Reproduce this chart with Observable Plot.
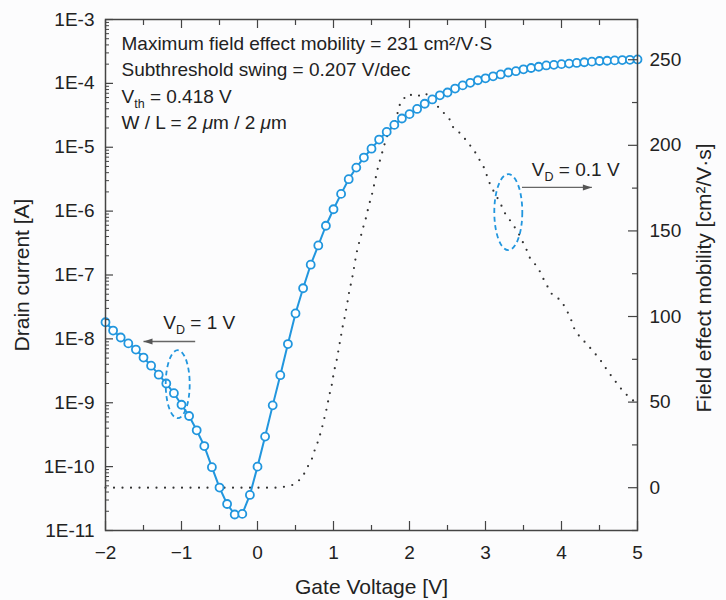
<!DOCTYPE html>
<html><head><meta charset="utf-8">
<script src="https://cdn.jsdelivr.net/npm/d3@7"></script>
<script src="https://cdn.jsdelivr.net/npm/@observablehq/plot@0.6"></script>
<style>
html,body{margin:0;padding:0;background:#fcfcfd;}
#chart{width:726px;height:600px;}
</style></head><body><div id="chart"></div>
<script>
// ---- data ----
const gateVoltage = [
  -2.0,-1.9,-1.8,-1.7,-1.6,-1.5,-1.4,-1.3,-1.2,-1.1,
  -1.0,-0.9,-0.8,-0.7,-0.6,-0.5,-0.4,-0.3,-0.2,-0.1,
   0.0, 0.1, 0.2, 0.3, 0.4, 0.5, 0.6, 0.7, 0.8, 0.9,
   1.0, 1.1, 1.2, 1.3, 1.4, 1.5, 1.6, 1.7, 1.8, 1.9,
   2.0, 2.1, 2.2, 2.3, 2.4, 2.5, 2.6, 2.7, 2.8, 2.9,
   3.0, 3.1, 3.2, 3.3, 3.4, 3.5, 3.6, 3.7, 3.8, 3.9,
   4.0, 4.1, 4.2, 4.3, 4.4, 4.5, 4.6, 4.7, 4.8, 4.9,
   5.0];
const drainCurrent = [
  1.82e-8,1.35e-8,1.05e-8,8.5e-9,6.8e-9,5.1e-9,3.8e-9,2.75e-9,2.0e-9,1.41e-9,
  9.3e-10,6.2e-10,3.7e-10,2.1e-10,9.8e-11,4.7e-11,2.6e-11,1.78e-11,1.82e-11,3.6e-11,
  1.0e-10,2.95e-10,9.1e-10,2.7e-9,8.3e-9,2.5e-8,6.2e-8,1.45e-7,2.9e-7,5.9e-7,
  1.07e-6,1.86e-6,3.16e-6,4.8e-6,6.9e-6,9.5e-6,1.32e-5,1.74e-5,2.24e-5,2.82e-5,
  3.3e-5,3.98e-5,4.8e-5,5.6e-5,6.5e-5,7.2e-5,8.3e-5,9.3e-5,1.02e-4,1.12e-4,
  1.20e-4,1.29e-4,1.38e-4,1.48e-4,1.55e-4,1.66e-4,1.74e-4,1.82e-4,1.91e-4,1.95e-4,
  2.0e-4,2.04e-4,2.09e-4,2.14e-4,2.19e-4,2.24e-4,2.26e-4,2.29e-4,2.32e-4,2.34e-4,
  2.37e-4];
const mobilityVg = [
  -2.0,0.25,0.36,0.48,0.59,0.65,0.71,0.75,0.80,0.83,0.86,0.89,0.92,0.94,0.97,0.99,
  1.01,1.04,1.06,1.08,1.10,1.12,1.15,1.17,1.19,1.21,1.24,1.26,1.28,1.30,1.33,1.36,
  1.39,1.43,1.46,1.51,1.54,1.59,1.63,1.66,1.71,1.77,1.82,1.85,1.88,1.98,2.09,2.21,
  2.32,2.43,2.53,2.58,2.68,2.85,2.98,3.07,3.13,3.20,3.26,3.35,3.43,3.54,3.59,3.69,
  3.75,3.81,3.88,3.99,4.06,4.12,4.16,4.23,4.33,4.43,4.52,4.60,4.68,4.78,4.89,4.97];
const mobility = [
  0,0,0.6,1.8,6,11.5,16,21.6,27.5,32,37,42.6,48,53.5,58,63.5,
  68.6,74,79,84,89,94,100,105,110,115.5,121,126,131,136.5,142,147,
  152,158,164,172,178,188,194,199,206,211,215,220,225,230,228.5,230.5,
  225,220,215,210,206.6,197,187,176,171.5,165.7,160,154.5,149,139,133.6,128.7,
  123,118,112.6,109.6,104.4,99,93.6,88.8,84,79,74,68.7,63.8,58,52.7,50];

const xTicks = [-2,-1,0,1,2,3,4,5];
const xMinorTicks = [-1.5,-0.5,0.5,1.5,2.5,3.5,4.5];
const currentTicks = [1e-11,1e-10,1e-9,1e-8,1e-7,1e-6,1e-5,1e-4,1e-3];
const mobilityTicks = [0,50,100,150,200,250];
const mobilityMinorTicks = [-25,25,75,125,175,225];
const currentDomain = [1e-11, 1e-3];
const mobilityDomain = [-25, 273.5];

const infoLines = [
  "Maximum field effect mobility = 231 cm²/V·S",
  "Subthreshold swing = 0.207 V/dec",
  "V_{th} = 0.418 V",
  "W / L = 2 μm / 2 μm"
];
const xTitle = "Gate Voltage [V]";
const yTitle = "Drain current [A]";
const y2Title = "Field effect mobility [cm²/V·s]";

// annotation anchors (data units)
const vd1Label = [{vg: -1.24, current: 1.41e-8, text: "V_{D} = 1 V"}];
const vd1Arrow = [{from: -0.82, to: -1.5, current: 9.1e-9}];
const vd1Ellipse = [{vg: -1.05, current: 1.95e-9}];
const vd01Label = [{vg: 3.61, mob: 182, text: "V_{D} = 0.1 V"}];
const vd01Arrow = [{from: 3.48, to: 4.40, mob: 175.4}];
const vd01Ellipse = [{vg: 3.30, mob: 161}];

// ---- helpers ----
const blue = "#2196de";
const axisColor = "#444";
const textColor = "#222";
const lg0 = Math.log10(currentDomain[0]), lg1 = Math.log10(currentDomain[1]);
const mobToCurrent = v => 10 ** (lg0 + (v - mobilityDomain[0]) / (mobilityDomain[1] - mobilityDomain[0]) * (lg1 - lg0));

const minorCurrentTicks = [];
for (let e = -11; e < -3; e++) for (let m = 2; m <= 9; m++) minorCurrentTicks.push(m * 10 ** e);

const ivTable = gateVoltage.map((vg, i) => ({vg, current: drainCurrent[i]}));
const mobTable = mobilityVg.map((vg, i) => ({vg, current: mobToCurrent(mobility[i])}));

const ellipseSymbol = (rx, ry) => ({
  draw(ctx) {
    const k = 0.5523;
    ctx.moveTo(rx, 0);
    ctx.bezierCurveTo(rx, ry * k, rx * k, ry, 0, ry);
    ctx.bezierCurveTo(-rx * k, ry, -rx, ry * k, -rx, 0);
    ctx.bezierCurveTo(-rx, -ry * k, -rx * k, -ry, 0, -ry);
    ctx.bezierCurveTo(rx * k, -ry, rx, -ry * k, rx, 0);
    ctx.closePath();
  }
});
const headSymbol = {
  draw(ctx) { ctx.moveTo(0, 0); ctx.lineTo(-9, -3); ctx.lineTo(-9, 3); ctx.closePath(); }
};
const blank = () => "";

const chart = Plot.plot({
  width: 726, height: 600,
  marginLeft: 105, marginRight: 89, marginTop: 19, marginBottom: 70,
  x: {domain: [-2, 5], label: null},
  y: {type: "log", domain: currentDomain, label: null},
  style: {background: "#fcfcfd", fontFamily: "'Liberation Sans', Arial, sans-serif", fontSize: "19px", color: textColor},
  marks: [
    // mobility dotted curve
    Plot.line(mobTable, {x: "vg", y: "current", stroke: "#333", strokeWidth: 2.2, strokeDasharray: "0,8.5", strokeLinecap: "round"}),
    // drain current
    Plot.line(ivTable, {x: "vg", y: "current", stroke: blue, strokeWidth: 2}),
    Plot.dot(ivTable, {x: "vg", y: "current", r: 4, stroke: blue, fill: "white", strokeWidth: 1.8}),
    // ellipses
    Plot.dot(vd1Ellipse, {x: "vg", y: "current", symbol: ellipseSymbol(12, 34), stroke: blue, fill: "none", strokeWidth: 1.8, strokeDasharray: "5,3.5"}),
    Plot.dot(vd01Ellipse, {x: "vg", y: d => mobToCurrent(d.mob), symbol: ellipseSymbol(14, 38), stroke: blue, fill: "none", strokeWidth: 1.8, strokeDasharray: "5,3.5"}),
    // arrows
    Plot.link(vd1Arrow, {x1: "from", x2: "to", y1: "current", y2: "current", stroke: "#666", strokeWidth: 1.3}),
    Plot.dot(vd1Arrow, {x: "to", y: "current", symbol: headSymbol, rotate: 180, fill: "#555", stroke: "none"}),
    Plot.link(vd01Arrow, {x1: "from", x2: "to", y1: d => mobToCurrent(d.mob), y2: d => mobToCurrent(d.mob), stroke: "#666", strokeWidth: 1.3}),
    Plot.dot(vd01Arrow, {x: "to", y: d => mobToCurrent(d.mob), symbol: headSymbol, rotate: 0, fill: "#555", stroke: "none"}),
    // labels
    Plot.text(vd1Label, {x: "vg", y: "current", text: "text", textAnchor: "start", lineAnchor: "bottom", fill: textColor}),
    Plot.text(vd01Label, {x: "vg", y: d => mobToCurrent(d.mob), text: "text", textAnchor: "start", lineAnchor: "bottom", fill: textColor}),
    ...infoLines.map((t, i) => Plot.text([t], {frameAnchor: "top-left", text: d => d, textAnchor: "start", lineAnchor: "bottom", dx: 16, dy: 30.5 + i * 26.3, fill: textColor})),
    // frame
    Plot.frame({stroke: axisColor, strokeWidth: 1.5}),
    // left axis (log)
    Plot.axisY(currentTicks, {anchor: "left", tickSize: 8, dx: 8, tickFormat: blank, stroke: axisColor, strokeWidth: 1.2, label: null}),
    Plot.axisY(minorCurrentTicks, {anchor: "left", tickSize: 4, dx: 4, tickFormat: blank, stroke: axisColor, strokeWidth: 1, label: null}),
    Plot.text(currentTicks, {y: d => d, frameAnchor: "left", textAnchor: "end", dx: -11, text: d => "1E" + Math.round(Math.log10(d)), fill: textColor}),
    // right axis (mobility)
    Plot.axisY(mobilityTicks.map(mobToCurrent), {anchor: "right", tickSize: 10, dx: -10, tickFormat: blank, stroke: axisColor, strokeWidth: 1.2, label: null}),
    Plot.axisY(mobilityMinorTicks.map(mobToCurrent), {anchor: "right", tickSize: 6, dx: -6, tickFormat: blank, stroke: axisColor, strokeWidth: 1.2, label: null}),
    Plot.text(mobilityTicks, {y: d => mobToCurrent(d), frameAnchor: "right", textAnchor: "start", dx: 12, text: d => String(d), fill: textColor}),
    // bottom / top axis
    Plot.axisX(xTicks, {anchor: "bottom", tickSize: 9, dy: -9, tickFormat: blank, stroke: axisColor, strokeWidth: 1.2, label: null}),
    Plot.axisX(xMinorTicks, {anchor: "bottom", tickSize: 5, dy: -5, tickFormat: blank, stroke: axisColor, strokeWidth: 1.2, label: null}),
    Plot.axisX(xTicks, {anchor: "top", tickSize: 8, dy: 8, tickFormat: blank, stroke: axisColor, strokeWidth: 1.2, label: null}),
    Plot.axisX(xMinorTicks, {anchor: "top", tickSize: 5, dy: 5, tickFormat: blank, stroke: axisColor, strokeWidth: 1.2, label: null}),
    Plot.axisX(xTicks, {anchor: "bottom", tickSize: 0, tickPadding: 15, fill: textColor, label: null}),
    // titles
    Plot.text([xTitle], {frameAnchor: "bottom", text: d => d, textAnchor: "middle", dy: 57, lineAnchor: "middle", fontSize: 21, fill: textColor}),
    Plot.text([yTitle], {frameAnchor: "left", text: d => d, textAnchor: "middle", dx: -83, dy: 0, rotate: -90, lineAnchor: "middle", fontSize: 21, fill: textColor}),
    Plot.text([y2Title], {frameAnchor: "right", text: d => d, textAnchor: "middle", dx: 67, dy: 3, rotate: -90, lineAnchor: "middle", fontSize: 21, fill: textColor})
  ]
});

// rich text: subscripts _{..} and italic μ
chart.querySelectorAll("text").forEach(el => {
  const s = el.textContent;
  if (!/_\{|μ/.test(s) || el.children.length) return;
  const parts = s.split(/(_\{[^}]*\}|μ)/).filter(p => p !== "");
  el.textContent = "";
  const ns = "http://www.w3.org/2000/svg";
  let shifted = false;
  for (const p of parts) {
    const t = document.createElementNS(ns, "tspan");
    if (p.startsWith("_{")) {
      t.textContent = p.slice(2, -1);
      t.setAttribute("font-size", "12.5");
      t.setAttribute("dy", "5");
      shifted = true;
    } else {
      t.textContent = p;
      if (shifted) { t.setAttribute("dy", "-5"); shifted = false; }
      if (p === "μ") t.setAttribute("font-style", "italic");
    }
    el.appendChild(t);
  }
});

document.getElementById("chart").appendChild(chart);
</script>
</body></html>
